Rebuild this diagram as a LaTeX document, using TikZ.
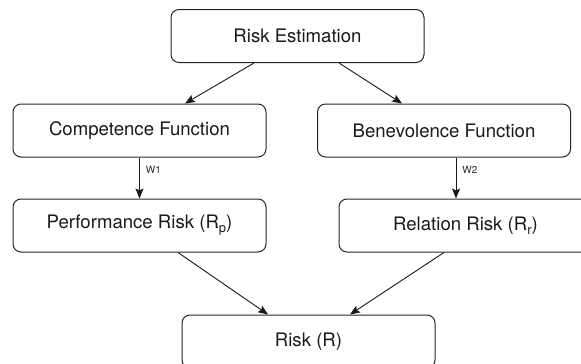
\documentclass[tikz,border=0pt]{standalone}
\usepackage{fontspec}
\setmainfont{TeX Gyre Heros}
\usetikzlibrary{arrows.meta}
\newcommand{\subtxt}[1]{\raisebox{-4pt}{\fontsize{13}{14}\selectfont #1}}
\tikzset{
  box/.style={draw=black!85, line width=1pt, rounded corners=8pt, minimum width=253pt, minimum height=53pt, inner sep=0pt, font=\fontsize{18.6}{20}\selectfont, text=black!90},
  conn/.style={draw=black!90, line width=0.9pt, -{Stealth[length=10pt,width=8pt,inset=2pt]}},
  wlab/.style={font=\fontsize{10}{11}\selectfont, text=black!85, anchor=west, inner sep=0pt}
}
\begin{document}
\begin{tikzpicture}[x=1pt,y=-1pt]
\useasboundingbox (0,0) rectangle (581,364);
\clip (0,0) rectangle (581,364);
\node[box] (re) at (297.5,36) {Risk Estimation};
\node[box] (cf) at (139.5,130.5) {Competence Function};
\node[box] (bf) at (444,130.5) {Benevolence Function};
\node[box] (pr) at (139.5,225.5) {Performance Risk (R\subtxt{p})};
\node[box] (rr) at (465.5,225.5) {Relation Risk (R\subtxt{r})};
\node[box] (r) at (308.5,341.5) {Risk (R)};
\draw[conn] ([xshift=-43.5pt]re.south) -- ([xshift=45.5pt]cf.north);
\draw[conn] ([xshift=41.5pt]re.south) -- ([xshift=-42pt]bf.north);
\draw[conn] (cf.south) -- node[wlab, pos=0.3, xshift=6pt] (w1) {W1} (pr.north);
\draw[conn] ([xshift=12pt]bf.south) -- node[wlab, pos=0.3, xshift=6pt] (w2) {W2} ([xshift=-9.5pt]rr.north);
\draw[conn] ([xshift=38.5pt]pr.south) -- ([xshift=-40.5pt]r.north);
\draw[conn] ([xshift=-21.5pt]rr.south) -- ([xshift=41.5pt]r.north);
\end{tikzpicture}
\end{document}
